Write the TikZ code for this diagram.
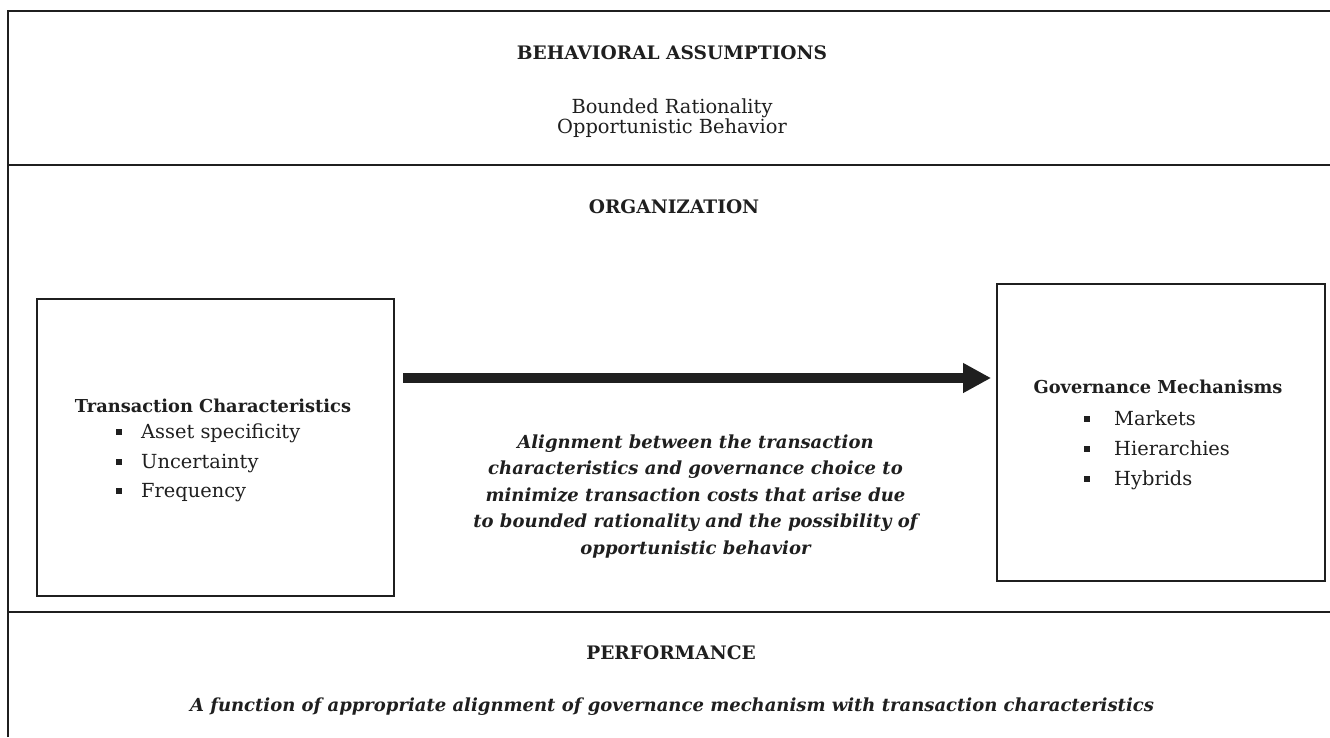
\documentclass[tikz,border=0pt]{standalone}
\usepackage{fontspec}
\setmainfont{DejaVu Serif}
\usetikzlibrary{arrows.meta}
\begin{document}
\begin{tikzpicture}[x=1pt,y=-1pt,
  rulex/.style={line width=1.6pt, draw=black!88},
  box/.style={draw=black!88, line width=1.8pt, inner sep=0pt},
  caphd/.style={font=\fontsize{18.6}{22}\selectfont\bfseries, anchor=base, inner sep=0pt, text=black!88},
  hd/.style={font=\fontsize{17.8}{21}\selectfont\bfseries, anchor=base, inner sep=0pt, text=black!88},
  txt/.style={font=\fontsize{19.4}{22}\selectfont, anchor=base, inner sep=0pt, text=black!88},
  itm/.style={font=\fontsize{19.4}{22}\selectfont, anchor=base west, inner sep=0pt, text=black!88},
  bul/.style={fill=black!88, minimum size=6.5pt, inner sep=0pt},
  emphtxt/.style={font=\fontsize{18}{26.5}\selectfont\bfseries\itshape, align=center, inner sep=0pt, text=black!88},
  bigarrow/.style={line width=10pt, draw=black!88, -{Triangle[length=28pt,width=28pt]}, shorten >=5pt},
]
\useasboundingbox[fill=white] (0,0) rectangle (1330,737);

% frame
\draw[rulex] (8,737) -- (8,11) -- (1330,11);
\draw[rulex] (8,165) -- (1330,165);
\draw[rulex] (8,612) -- (1330,612);

% top section
\node[caphd] (ba) at (672,59) {BEHAVIORAL ASSUMPTIONS};
\node[txt] (br) at (672,113) {Bounded Rationality};
\node[txt] (ob) at (672,133) {Opportunistic Behavior};

% organization
\node[caphd] (org) at (674,213) {ORGANIZATION};

% left box
\node[box, minimum width=357pt, minimum height=297pt] (tc) at (215.5,447.5) {};
\node[hd] (tch) at (213,412) {Transaction Characteristics};
\node[bul] (b1) at (119,432) {};
\node[itm] (i1) at (141,438) {Asset specificity};
\node[bul] (b2) at (119,462) {};
\node[itm] (i2) at (141,468) {Uncertainty};
\node[bul] (b3) at (119,491) {};
\node[itm] (i3) at (141,497) {Frequency};

% right box
\node[box, minimum width=328pt, minimum height=297pt] (gov) at (1161,432.5) {};
\node[hd] (gmh) at (1158,393) {Governance Mechanisms};
\node[bul] (g1) at (1087,419) {};
\node[itm] (j1) at (1114,425) {Markets};
\node[bul] (g2) at (1087,449) {};
\node[itm] (j2) at (1114,455) {Hierarchies};
\node[bul] (g3) at (1087,479) {};
\node[itm] (j3) at (1114,485) {Hybrids};

% arrow
\coordinate (astart) at (403,378);
\draw[bigarrow] (astart) -- (astart -| gov.west);

% center text
\node[emphtxt] (align) at (695.5,496.5) {Alignment between the transaction\\characteristics and governance choice to\\minimize transaction costs that arise due\\to bounded rationality and the possibility of\\opportunistic behavior};

% performance
\node[caphd] (perf) at (671,659) {PERFORMANCE};
\node[txt, font=\fontsize{18}{21}\selectfont\bfseries\itshape] (pf) at (672,711) {A function of appropriate alignment of governance mechanism with transaction characteristics};
\end{tikzpicture}
\end{document}
